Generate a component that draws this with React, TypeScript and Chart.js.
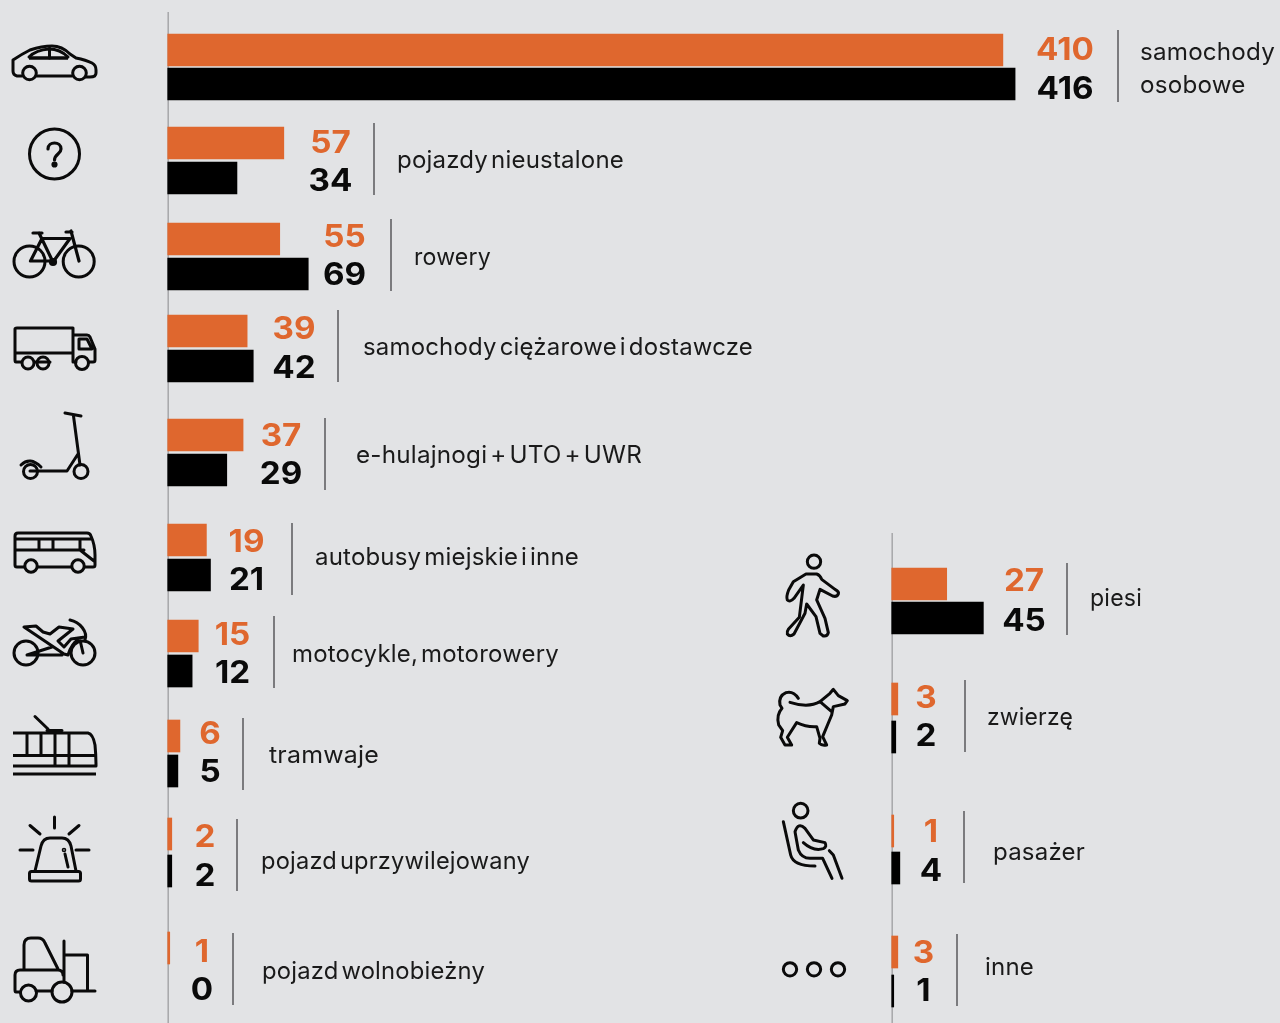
import React, { useEffect, useRef } from "react";
import { Chart, registerables } from "chart.js";

Chart.register(...registerables);

// ---- data ----
const leftCategories = [
  ["samochody", "osobowe"],
  ["pojazdy nieustalone"],
  ["rowery"],
  ["samochody ciężarowe i dostawcze"],
  ["e-hulajnogi + UTO + UWR"],
  ["autobusy miejskie i inne"],
  ["motocykle, motorowery"],
  ["tramwaje"],
  ["pojazd uprzywilejowany"],
  ["pojazd wolnobieżny"],
];
const leftOrange = [410, 57, 55, 39, 37, 19, 15, 6, 2, 1];
const leftBlack = [416, 34, 69, 42, 29, 21, 12, 5, 2, 0];

const rightCategories = [["piesi"], ["zwierzę"], ["pasażer"], ["inne"]];
const rightOrange = [27, 3, 1, 3];
const rightBlack = [45, 2, 4, 1];

// ---- layout (page rows, not data) ----
const W = 1280;
const H = 1023;
const PX_PER_UNIT = 2.037;
const ORANGE = "#DF672E";
const BG = "#E2E3E5";

const leftLayout = {
  axisX: 167.7,
  axisTop: 12,
  orangeRow: [50, 143, 239, 331, 435, 540, 636, 736, 834, 948],
  blackRow: [84, 178, 274, 366, 470, 575, 671, 771, 871, 984],
  valueX: [1065, 330.5, 344.5, 294, 281, 246.5, 232.5, 210, 205, 202],
  orangeTextY: [49, 142, 236, 328, 435, 541, 634, 733, 836, 951],
  blackTextY: [88, 180, 274, 367, 473, 579, 672, 771, 875, 989],
  dividerX: [1118, 374, 391, 338, 325, 292, 274, 243, 237, 233],
  dividerTop: [30, 123, 219, 310, 418, 523, 616, 718, 819, 933],
  labelX: [1140, 397, 414, 363, 356, 315, 292, 269, 261, 262],
  labelY: [68, 160, 257, 347, 455, 557, 654, 755, 861, 971],
  labelWidth: [135, 227, 77, 390, 286, 264, 267, 110, 269, 223],
};
const rightLayout = {
  axisX: 891.7,
  axisTop: 533,
  orangeRow: [584, 699, 831, 952],
  blackRow: [618, 737, 868, 991],
  valueX: [1024, 926, 931, 923.5],
  orangeTextY: [580, 697, 831, 952],
  blackTextY: [620, 735, 870, 990],
  dividerX: [1067, 965, 964, 957],
  dividerTop: [563, 680, 811, 934],
  labelX: [1090, 987, 993, 985],
  labelY: [598, 717, 852, 967],
  labelWidth: [52, 86, 92, 49],
};

function makePanel(
  canvas: HTMLCanvasElement,
  categories: string[][],
  orange: number[],
  black: number[],
  L: typeof leftLayout
) {
  const drawValue = (ctx: CanvasRenderingContext2D, v: number, x: number, y: number, color: string) => {
    ctx.save();
    ctx.translate(x, y);
    ctx.scale(1.07, 1);
    ctx.fillStyle = color;
    ctx.fillText(String(v), 0, 0);
    ctx.restore();
  };

  const decorate = {
    id: "decorate",
    beforeDatasetsDraw(chart: any) {
      const { ctx, scales } = chart;
      const x0 = scales.x.getPixelForValue(0);
      ctx.save();
      ctx.strokeStyle = "#A6A7A9";
      ctx.lineWidth = 1.5;
      ctx.beginPath();
      ctx.moveTo(x0 + 0.5, L.axisTop);
      ctx.lineTo(x0 + 0.5, H);
      ctx.stroke();
      ctx.restore();
    },
    afterDatasetsDraw(chart: any) {
      const { ctx } = chart;
      ctx.save();
      ctx.textBaseline = "middle";
      categories.forEach((lines, i) => {
        ctx.font = '700 31px Inter, "Noto Sans", sans-serif';
        ctx.textAlign = "center";
        (ctx as any).letterSpacing = "0px";
        (ctx as any).wordSpacing = "0px";
        drawValue(ctx, orange[i], L.valueX[i], L.orangeTextY[i] + 1.5, ORANGE);
        drawValue(ctx, black[i], L.valueX[i], L.blackTextY[i] + 1.5, "#0A0A0A");

        ctx.strokeStyle = "#58595B";
        ctx.lineWidth = 1.5;
        ctx.beginPath();
        ctx.moveTo(L.dividerX[i], L.dividerTop[i]);
        ctx.lineTo(L.dividerX[i], L.dividerTop[i] + 72);
        ctx.stroke();

        ctx.font = '400 24px Inter, "Noto Sans", sans-serif';
        ctx.textAlign = "left";
        ctx.fillStyle = "#1A1A1A";
        (ctx as any).letterSpacing = "0.2px";
        (ctx as any).wordSpacing = "-4px";
        const fit = L.labelWidth[i] / ctx.measureText(lines[0]).width;
        lines.forEach((t, k) => {
          const y = L.labelY[i] + 1 + (k - (lines.length - 1) / 2) * 33;
          ctx.save();
          ctx.translate(L.labelX[i], y);
          ctx.scale(fit, 1);
          ctx.fillText(t, 0, 0);
          ctx.restore();
        });
      });
      ctx.restore();
    },
  };

  return new Chart(canvas, {
    type: "bar",
    data: {
      datasets: [
        {
          label: "orange",
          data: orange.map((v, i) => ({ x: v, y: L.orangeRow[i] })),
          backgroundColor: ORANGE,
          barThickness: 32,
          grouped: false,
        },
        {
          label: "black",
          data: black.map((v, i) => ({ x: v === 0 ? null : v, y: L.blackRow[i] })),
          backgroundColor: "#000000",
          barThickness: 32,
          grouped: false,
        },
      ] as any,
    },
    options: {
      indexAxis: "y",
      responsive: false,
      animation: false,
      layout: { padding: 0 },
      plugins: { legend: { display: false }, tooltip: { enabled: false } },
      scales: {
        x: {
          type: "linear",
          display: false,
          min: -L.axisX / PX_PER_UNIT,
          max: (W - L.axisX) / PX_PER_UNIT,
        },
        y: { type: "linear", display: false, offset: false, min: 0, max: H, reverse: true },
      },
    } as any,
    plugins: [decorate],
  });
}

// ---- pictograms ----
const Icons = () => (
  <svg
    width={W}
    height={H}
    viewBox={`0 0 ${W} ${H}`}
    style={{ position: "absolute", left: 0, top: 0, pointerEvents: "none" }}
    fill="none"
    stroke="#0A0A0A"
    strokeWidth={3}
    strokeLinecap="round"
    strokeLinejoin="round"
  >
    {/* car */}
    <path d="M22 76 H17 Q13 75 13 71 V60 Q22 54 30 50 Q42 46 52 46 Q62 46 70 54 L76 58 Q86 60 92 63 Q96 65 96 70 V73 Q96 77 90 77 H86 M72 76 H36" />
    <circle cx="29.5" cy="73" r="6.8" />
    <circle cx="79.5" cy="73" r="6.8" />
    <path d="M29 58 H68" strokeWidth={3.4} strokeLinecap="butt" />
    <path d="M49.5 48 V58 M29 57 Q36 50 49 49 Q60 49 68 57" />
    {/* unknown */}
    <circle cx="54.5" cy="154" r="25" />
    <path d="M48 149 C48 141 61 141 61 149 C61 154 54.5 154 54.5 160" strokeWidth={3.2} />
    <circle cx="54.5" cy="164.5" r="1.6" fill="#0A0A0A" />
    {/* bicycle */}
    <circle cx="29.5" cy="261.5" r="15.5" />
    <circle cx="78.7" cy="261.5" r="15.5" />
    <circle cx="53" cy="262" r="2.6" />
    <path d="M39 233 L53 262 L70 238.5 H42 L30.5 261 H53 M33 233 H42 M71 231 L79 261 M66 232 H72" strokeWidth={3.2} />
    {/* truck */}
    <path d="M21 362 H16 Q15 362 15 360 V329 Q15 328 17 328 H73 V362 H76 M50 362 H35 M15 353 H73 M89 362 H93 Q95 362 95 360 V349 L90 337 Q89 335 87 335 H73 M79 339 H87 L92 349 H79 Z" />
    <circle cx="28" cy="363" r="6" />
    <circle cx="43" cy="363" r="6" />
    <circle cx="82" cy="363" r="6.5" />
    {/* scooter */}
    <path d="M65 413 L81 416 M73.5 416 L80 465 M78 454 L67 471 H38 M21 465 Q30 456 41 467 M30 471 H36" />
    <circle cx="30.5" cy="471.5" r="7" />
    <circle cx="81" cy="471.5" r="7" />
    {/* bus */}
    <path d="M24 567 H17 Q15 567 15 565 V536 Q15 533 18 533 H87 Q90 533 91 536 Q95 545 95 555 V565 Q95 567 93 567 H85 M71 567 H38 M15 539 H90 M15 550 H84 M39 539 V550 M53 539 V550 M80 539 V550 L94 561" />
    <circle cx="31" cy="566" r="6.2" />
    <circle cx="78" cy="566" r="6.2" />
    {/* motorbike */}
    <circle cx="26" cy="653" r="12" />
    <circle cx="83" cy="653" r="12" />
    <path d="M24 627 L36 626 L43 632 L50 634 L59 627 L73 629 L58 641 L64 647 L71 639 L85 637 M70 620 C80 622 88 632 85 640 M24 627 L64 654 L68 655 M62 655 H27 L52 647 M80 640 L83 653 M68 655 C70 648 74 642 79 639" />
    {/* tram */}
    <path d="M13 774 H96" strokeWidth={3.2} strokeLinecap="butt" />
    <path d="M13 733 H88 Q93 734 95 745 Q96 755 96 766 H13 M13 755.5 H96 M27 733 V755.5 M41 733 V755.5 M55 733 V766 M69 733 V766" strokeLinecap="butt" />
    <path d="M35 716.5 L48 729 M47 730.5 H62" />
    {/* siren */}
    <path d="M54.5 817 V828 M30 825.5 L40 834 M79 825.5 L69 834 M20 850 H33 M76 850 H89 M35 871 L41 846 Q43 838 50 838 H62 Q69 838 71 846 L76 871 M65 854 L68 867" />
    <circle cx="64" cy="850" r="0.8" />
    <rect x="29.5" y="871.5" width="51" height="9.5" rx="2" />
    {/* forklift */}
    <path d="M24 969 V945 Q24 938 31 938 H38 Q43 938 45 943 L58 969 M20 992 H16 Q15 992 15 990 V975 Q15 970 20 970 H58 Q63 970 63 975 M36 991 H52 M72 991 H95 M64 941 V982 M64 955 H87.5 V991" />
    <circle cx="28.5" cy="993" r="8" />
    <circle cx="62" cy="992" r="10" />
    {/* pedestrian */}
    <g transform="translate(770 530) scale(0.3333)" strokeWidth={9}>
      <circle cx="132" cy="95" r="20" />
      <path d="M108 132 H140 Q150 135 155 148 L195 178 Q208 184 205 192 Q200 202 188 198 L150 178 L140 210 L165 265 L175 308 Q172 320 160 318 L150 310 L138 260 L110 222 L105 250 L72 312 Q60 322 52 312 Q50 305 55 298 L88 262 L100 165 L72 205 Q60 218 52 210 Q48 200 56 180 L70 155 Z" />
    </g>
    {/* dog */}
    <g transform="translate(770 530) scale(0.3333)" strokeWidth={9}>
      <path d="M85 505 Q70 482 48 488 Q25 498 30 525 L36 535 Q18 555 26 585 L38 602 L32 622 L45 645 H65 L52 622 L80 578 Q110 592 140 590 L150 625 L148 640 Q155 648 170 645 L158 620 L185 555 L190 530 L225 522 L232 512 L205 497 L190 478 L180 490 L150 515 Q115 535 60 517 M150 515 L185 545" />
    </g>
    {/* passenger */}
    <g transform="translate(770 790) scale(0.3333)" strokeWidth={9}>
      <circle cx="92" cy="62" r="22" />
      <path d="M40 95 L62 195 Q70 228 135 228 M75 125 Q85 95 105 115 L130 150 L165 158 Q172 170 160 176 Q130 185 100 158 M75 125 L85 180 Q95 205 120 205 H158 L186 265 M178 182 L190 195 L216 265" />
    </g>
    {/* other */}
    <g transform="translate(770 790) scale(0.3333)" strokeWidth={9}>
      <circle cx="60" cy="538" r="20" />
      <circle cx="132" cy="538" r="20" />
      <circle cx="204" cy="538" r="20" />
    </g>
  </svg>
);

export default function App() {
  const leftRef = useRef<HTMLCanvasElement>(null);
  const rightRef = useRef<HTMLCanvasElement>(null);

  useEffect(() => {
    document.body.style.margin = "0";
    document.body.style.background = BG;
    const a = makePanel(leftRef.current!, leftCategories, leftOrange, leftBlack, leftLayout);
    const b = makePanel(rightRef.current!, rightCategories, rightOrange, rightBlack, rightLayout as any);
    return () => {
      a.destroy();
      b.destroy();
    };
  }, []);

  const cs: React.CSSProperties = { position: "absolute", left: 0, top: 0, width: W, height: H, display: "block" };
  return (
    <div style={{ position: "relative", width: W, height: H, overflow: "hidden", background: BG }}>
      <canvas ref={leftRef} width={W} height={H} style={cs} />
      <canvas ref={rightRef} width={W} height={H} style={cs} />
      <Icons />
    </div>
  );
}
